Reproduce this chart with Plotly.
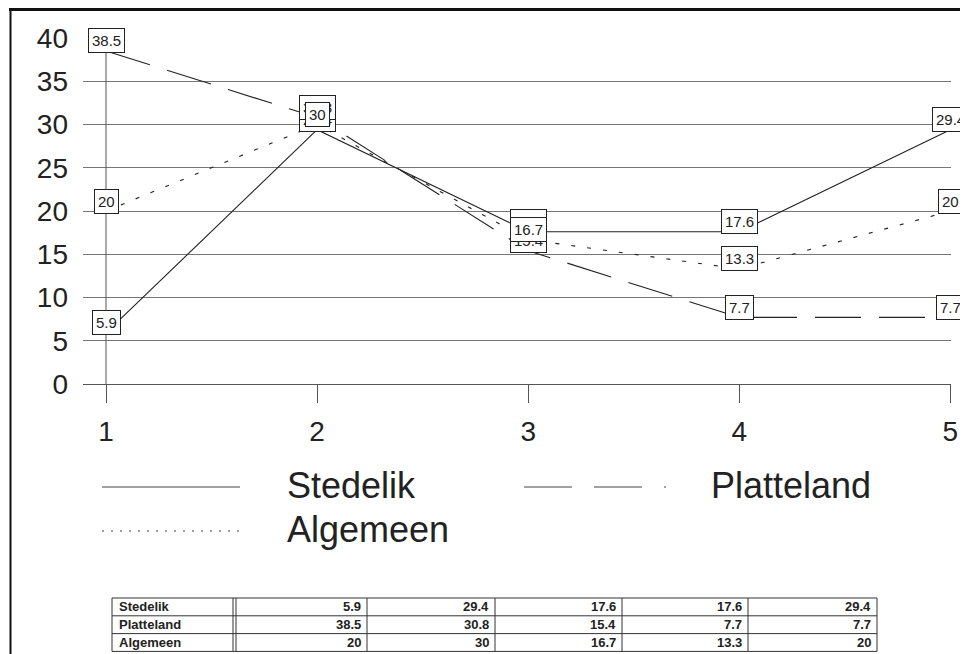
import plotly.graph_objects as go

# ---- data ----
categories = [1, 2, 3, 4, 5]
series_names = ["Stedelik", "Platteland", "Algemeen"]
stedelik = [5.9, 29.4, 17.6, 17.6, 29.4]
platteland = [38.5, 30.8, 15.4, 7.7, 7.7]
algemeen = [20, 30, 16.7, 13.3, 20]
y_ticks = [0, 5, 10, 15, 20, 25, 30, 35, 40]

# page body has an 8px margin, so the figure is drawn inside it
OX, OY = 8, 8
FW, FH = 960, 646
FONT = "Liberation Sans, Arial, sans-serif"
INK = "#222222"

def fx(px):
    return (px - OX) / FW

def fy(py):
    return 1 - (py - OY) / FH

series = [stedelik, platteland, algemeen]
dashes = ["solid", "46px,18px", "4px,12px"]

fig = go.Figure()
for name, vals, dash in zip(series_names, series, dashes):
    fig.add_trace(go.Scatter(
        x=categories, y=vals, mode="lines", name=name,
        line=dict(color=INK, width=1.1, dash=dash),
        showlegend=False, hoverinfo="skip"))

# data labels (boxed)
annotations = []
for vals in series:
    for xv, yv in zip(categories, vals):
        annotations.append(dict(
            x=xv, y=yv, xref="x", yref="y", text=f"{yv:g}",
            showarrow=False, yshift=10, xanchor="center", yanchor="middle",
            font=dict(family=FONT, size=15, color=INK),
            bgcolor="white", bordercolor=INK, borderwidth=1, borderpad=3))

# manual legend
legend_items = [
    (series_names[0], "solid", 102, 240, 487, 285),
    (series_names[1], "48px,22px", 524, 666, 487, 709),
    (series_names[2], "2px,7px", 102, 240, 531, 285),
]
shapes = []
for name, dash, x0, x1, yl, xt in legend_items:
    shapes.append(dict(type="line", xref="paper", yref="paper",
                       x0=fx(x0), x1=fx(x1), y0=fy(yl), y1=fy(yl),
                       line=dict(color="#444444", width=1.2, dash=dash)))
    annotations.append(dict(x=fx(xt), y=fy(yl - 2), xref="paper", yref="paper",
                            text=name, showarrow=False, xanchor="left",
                            yanchor="middle",
                            font=dict(family=FONT, size=36, color=INK)))

# y-axis line at x=1
shapes.append(dict(type="line", xref="x", yref="y", x0=1, x1=1, y0=0, y1=40,
                   line=dict(color="#555555", width=1)))

# page frame
shapes.append(dict(type="line", xref="paper", yref="paper",
                   x0=fx(9), x1=1, y0=fy(9.5), y1=fy(9.5),
                   line=dict(color="#111111", width=3)))
shapes.append(dict(type="line", xref="paper", yref="paper",
                   x0=fx(10.5), x1=fx(10.5), y0=fy(8), y1=0,
                   line=dict(color="#111111", width=2)))
shapes.append(dict(type="line", xref="paper", yref="paper",
                   x0=fx(966), x1=fx(966), y0=fy(8), y1=0,
                   line=dict(color="#333333", width=1)))

# data table (drawn with lines and text)
tab_top, row_h = 598, 17.8
col_edges = [112, 233, 236, 367, 495, 622, 748, 877]
rows = [stedelik, platteland, algemeen]
tab_bottom = tab_top + row_h * len(rows)
for k in range(len(rows) + 1):
    yy = tab_top + k * row_h
    shapes.append(dict(type="line", xref="paper", yref="paper",
                       x0=fx(col_edges[0]), x1=fx(col_edges[-1]),
                       y0=fy(yy), y1=fy(yy),
                       line=dict(color="#333333", width=1)))
for ce in col_edges:
    shapes.append(dict(type="line", xref="paper", yref="paper",
                       x0=fx(ce), x1=fx(ce), y0=fy(tab_top), y1=fy(tab_bottom),
                       line=dict(color="#333333", width=1)))
for r, (name, vals) in enumerate(zip(series_names, rows)):
    yc = tab_top + r * row_h + row_h / 2
    annotations.append(dict(x=fx(col_edges[0] + 5), y=fy(yc), xref="paper",
                            yref="paper", text=f"<b>{name}</b>",
                            showarrow=False, xanchor="left", yanchor="middle",
                            font=dict(family=FONT, size=13, color=INK)))
    for c, v in enumerate(vals):
        annotations.append(dict(x=fx(col_edges[c + 3] - 4), y=fy(yc),
                                xref="paper", yref="paper", text=f"<b>{v:g}</b>",
                                showarrow=False, xanchor="right",
                                yanchor="middle",
                                font=dict(family=FONT, size=13, color=INK)))

fig.update_layout(
    width=FW, height=FH,
    margin=dict(l=0, r=0, t=0, b=0, pad=0, autoexpand=False),
    paper_bgcolor="white", plot_bgcolor="white",
    showlegend=False,
    xaxis=dict(domain=[fx(83), fx(951)], range=[0.891, 5.003],
               tickvals=categories, ticktext=[str(c) for c in categories],
               ticks="outside", ticklen=18, tickcolor="#555555", tickwidth=1,
               showgrid=False, zeroline=False, showline=True,
               linecolor="#555555", linewidth=1, ticklabelstandoff=4,
               automargin=False,
               tickfont=dict(family=FONT, size=28, color=INK)),
    yaxis=dict(domain=[fy(384), fy(38)], range=[0, 40],
               tickvals=y_ticks, ticks="", showgrid=True,
               gridcolor="#777777", gridwidth=1, zeroline=False,
               showline=False, ticklabelstandoff=14, automargin=False,
               tickfont=dict(family=FONT, size=28, color=INK)),
    shapes=shapes, annotations=annotations,
)

fig.write_html("out.html")
